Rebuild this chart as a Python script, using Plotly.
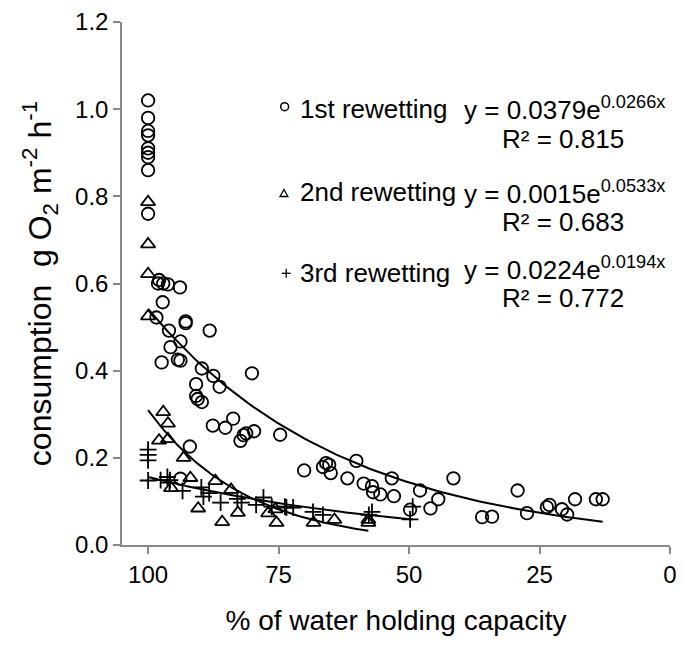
import numpy as np
import plotly.graph_objects as go

# ---- data ----
x1 = [100, 100, 100, 100, 100, 100, 100, 100, 100,
      97.9, 98.1, 97.1, 96.2, 93.9, 97.2, 98.4, 92.8, 92.8, 88.2, 96.0,
      93.8, 95.7, 97.4, 94.3, 93.8, 89.7, 87.5, 80.1, 90.8, 86.3,
      90.8, 90.5, 89.7, 87.6, 85.2, 83.7, 82.3, 81.7, 81.2, 79.7,
      74.7, 92.0, 93.8, 70.1, 65.9, 66.5, 65.3, 65.0,
      60.1, 61.8, 58.7, 57.1, 56.9, 55.5, 53.3, 52.9, 49.8,
      47.9, 45.9, 44.4, 41.5, 36.0, 34.1, 29.2, 27.4, 23.6, 23.1,
      20.7, 19.7, 18.2, 14.2, 12.9]
y1 = [1.02, 0.98, 0.95, 0.94, 0.91, 0.90, 0.89, 0.86, 0.76,
      0.608, 0.600, 0.600, 0.598, 0.591, 0.557, 0.522, 0.513, 0.509, 0.492, 0.492,
      0.467, 0.454, 0.419, 0.425, 0.423, 0.405, 0.388, 0.394, 0.369, 0.363,
      0.342, 0.335, 0.328, 0.274, 0.269, 0.290, 0.239, 0.252, 0.256, 0.261,
      0.253, 0.226, 0.152, 0.171, 0.188, 0.179, 0.184, 0.165,
      0.193, 0.153, 0.141, 0.135, 0.121, 0.116, 0.153, 0.112, 0.081,
      0.125, 0.084, 0.105, 0.153, 0.064, 0.065, 0.125, 0.073, 0.087, 0.092,
      0.082, 0.070, 0.105, 0.105, 0.105]

x2 = [100, 100, 100, 100,
      97.1, 96.2, 97.9, 96.2, 93.2, 91.9, 95.6, 87.1, 84.1,
      90.4, 85.8, 82.8, 77.0, 75.6, 75.4, 68.3, 64.3, 57.8, 57.8]
y2 = [0.787, 0.690, 0.622, 0.525,
      0.305, 0.279, 0.240, 0.243, 0.200, 0.154, 0.131, 0.147, 0.127,
      0.084, 0.053, 0.074, 0.073, 0.082, 0.051, 0.051, 0.058, 0.058, 0.051]

x3 = [100, 100, 100, 100, 97.6, 96.3, 95.8, 95.9, 93.4, 89.8, 89.4, 88.3,
      86.1, 82.9, 82.1, 79.3, 77.9, 76.3, 73.8, 73.5, 72.2, 68.4, 66.5,
      57.1, 57.7, 49.3, 49.8]
y3 = [0.219, 0.207, 0.194, 0.148, 0.149, 0.156, 0.149, 0.143, 0.124, 0.132, 0.111, 0.119,
      0.097, 0.106, 0.097, 0.092, 0.109, 0.088, 0.088, 0.086, 0.086, 0.076, 0.069,
      0.076, 0.069, 0.088, 0.059]

# exponential trendlines y = a*exp(b*x)
fits = [(0.0379, 0.0266, "0.815"), (0.0015, 0.0533, "0.683"), (0.0224, 0.0194, "0.772")]
labels = ["1st rewetting", "2nd rewetting", "3rd rewetting"]

xticks = [100, 75, 50, 25, 0]
yticks = [0.0, 0.2, 0.4, 0.6, 0.8, 1.0, 1.2]

FONT = "Liberation Sans, Arial, sans-serif"

fig = go.Figure()

series = [(x1, y1, "circle-open", 12.5), (x2, y2, "triangle-up-open", 12.5), (x3, y3, "cross-thin-open", 12)]
for (xs, ys, sym, sz) in series:
    fig.add_trace(go.Scatter(x=xs, y=ys, mode="markers",
                             marker=dict(symbol=sym, size=sz, color="black",
                                         line=dict(color="black", width=1.8)),
                             showlegend=False, hoverinfo="x+y"))

for (a, b, r2), xs in zip(fits, [x1, x2, x3]):
    xx = np.linspace(max(xs), min(xs), 100)
    fig.add_trace(go.Scatter(x=xx, y=a * np.exp(b * xx), mode="lines",
                             line=dict(color="black", width=2), showlegend=False,
                             hoverinfo="skip"))

# pixel helpers for the legend-like text block
L, R, T, B = 122, 677, 22, 545
def px(x):
    return (x - L) / (R - L)
def py(y):
    return (B - y) / (B - T)

rows = [109, 192, 273]
eq_rows = [109, 192, 268]
r2_rows = [139, 222, 298]
for i, ((a, b, r2), lab) in enumerate(zip(fits, labels)):
    fig.add_annotation(x=px(300), y=py(rows[i]), xref="paper", yref="paper",
                       text=lab, showarrow=False, xanchor="left", yanchor="middle",
                       font=dict(family=FONT, size=26, color="black"))
    fig.add_annotation(x=px(466), y=py(eq_rows[i]), xref="paper", yref="paper",
                       text=f"y = {a:.4f}e<sup>{b:.4f}x</sup>", showarrow=False,
                       xanchor="left", yanchor="middle",
                       font=dict(family=FONT, size=26, color="black"))
    fig.add_annotation(x=px(505), y=py(r2_rows[i]), xref="paper", yref="paper",
                       text=f"R² = {r2}", showarrow=False, xanchor="left", yanchor="middle",
                       font=dict(family=FONT, size=26, color="black"))

# legend symbols as shapes
cx, cy = 286.7, 106.7
fig.add_shape(type="circle", xref="paper", yref="paper",
              x0=px(cx - 4), x1=px(cx + 4), y0=py(cy + 4), y1=py(cy - 4),
              line=dict(color="black", width=1.5))
tx, ty = 286, 193
fig.add_shape(type="path", xref="paper", yref="paper",
              path=f"M {px(tx-4)} {py(ty+3.5)} L {px(tx+4)} {py(ty+3.5)} L {px(tx)} {py(ty-3.5)} Z",
              line=dict(color="black", width=1.3))
ux, uy = 288.3, 273.3
fig.add_shape(type="line", xref="paper", yref="paper",
              x0=px(ux - 4.5), x1=px(ux + 4.5), y0=py(uy), y1=py(uy),
              line=dict(color="black", width=1.3))
fig.add_shape(type="line", xref="paper", yref="paper",
              x0=px(ux), x1=px(ux), y0=py(uy - 4.5), y1=py(uy + 4.5),
              line=dict(color="black", width=1.3))

axis_common = dict(showgrid=False, zeroline=False, showline=True, linecolor="#898989",
                   linewidth=1.5, ticks="outside", tickcolor="#898989", ticklen=7,
                   tickwidth=1.5, tickfont=dict(family=FONT, size=24, color="black"))

fig.update_xaxes(range=[105, 0], tickvals=xticks, ticktext=[str(v) for v in xticks],
                 title=dict(text="% of water holding capacity",
                            font=dict(family=FONT, size=28, color="black"), standoff=24),
                 **axis_common)
fig.update_yaxes(range=[0, 1.2], tickvals=yticks, ticktext=[f"{v:.1f}" for v in yticks],
                 title=dict(text="consumption  g O<sub>2</sub> m<sup>-2</sup> h<sup>-1</sup>",
                            font=dict(family=FONT, size=32, color="black"), standoff=14),
                 **axis_common)

fig.update_layout(width=684, height=645, margin=dict(l=L, r=684 - R, t=T, b=645 - B),
                  plot_bgcolor="white", paper_bgcolor="white", showlegend=False)

fig.write_html("out.html")
